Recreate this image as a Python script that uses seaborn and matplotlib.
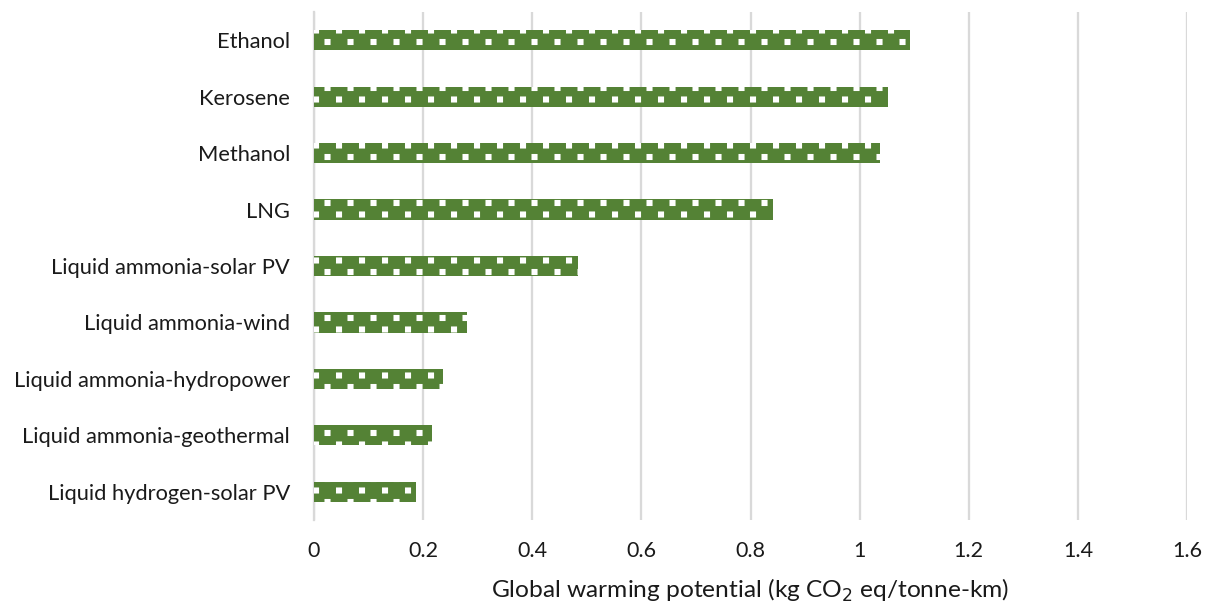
import matplotlib
matplotlib.use("Agg")
import numpy as np
import matplotlib.pyplot as plt
from matplotlib import hatch as mhatch
from matplotlib.path import Path
import seaborn as sns
import pandas as pd

fuels = [
    "Ethanol",
    "Kerosene",
    "Methanol",
    "LNG",
    "Liquid ammonia-solar PV",
    "Liquid ammonia-wind",
    "Liquid ammonia-hydropower",
    "Liquid ammonia-geothermal",
    "Liquid hydrogen-solar PV",
]
gwp = [1.092, 1.052, 1.037, 0.841, 0.484, 0.280, 0.236, 0.216, 0.187]
x_ticks = [0, 0.2, 0.4, 0.6, 0.8, 1.0, 1.2, 1.4, 1.6]
x_tick_labels = ["0", "0.2", "0.4", "0.6", "0.8", "1", "1.2", "1.4", "1.6"]

df = pd.DataFrame({"fuel": fuels, "gwp": gwp})


class SquareDots(mhatch.HatchPatternBase):
    """Staggered grid of small filled squares, used for the '.' hatch."""

    cols = 6          # squares per hatch tile, horizontally
    rows = 12         # half-staggered rows per hatch tile
    half = 0.022      # half side of one square, in tile units
    x_off = 0.04      # phase of the grid inside the tile
    y_off = 0.029

    def __init__(self, hatch, density):
        self.active = hatch.count(".") > 0
        self._centers = []
        if self.active:
            step = 1.0 / self.cols
            for r in range(-1, self.rows + 2):
                y = r / self.rows + self.y_off
                shift = 0.0 if r % 2 == 0 else step / 2
                for k in range(-1, self.cols + 2):
                    self._centers.append((k * step + shift + self.x_off, y))
        self.num_vertices = 5 * len(self._centers)

    def set_vertices_and_codes(self, vertices, codes):
        h = self.half
        square = np.array([[-h, -h], [h, -h], [h, h], [-h, h], [-h, -h]])
        sq_codes = [Path.MOVETO, Path.LINETO, Path.LINETO, Path.LINETO,
                    Path.CLOSEPOLY]
        for i, (cx, cy) in enumerate(self._centers):
            vertices[5 * i:5 * i + 5] = square + [cx, cy]
            codes[5 * i:5 * i + 5] = sq_codes


mhatch._hatch_types = [t for t in mhatch._hatch_types
                       if t is not mhatch.SmallFilledCircles] + [SquareDots]

DPI = 138
sns.set_style("white")
plt.rcParams["font.family"] = ["Lato", "DejaVu Sans"]
plt.rcParams["hatch.color"] = "white"
plt.rcParams["hatch.linewidth"] = 0.0

fig = plt.figure(figsize=(1211 / DPI, 604 / DPI), dpi=DPI)
ax = fig.add_axes([314 / 1211, 1 - 520 / 604, (1187 - 314) / 1211, (520 - 12) / 604])

sns.barplot(data=df, y="fuel", x="gwp", orient="h", color="#548235",
            width=0.36, saturation=1, ax=ax, zorder=3)
for p in ax.patches:
    p.set_hatch(".")
    p.set_edgecolor("white")
    p.set_linewidth(0)

ax.set_xlim(0, 1.6)
ax.set_xticks(x_ticks)
ax.set_xticklabels(x_tick_labels)
ax.grid(axis="x", color="#d9d9d9", linewidth=1.2, zorder=0)
ax.grid(axis="y", visible=False)
for side in ["top", "right", "bottom"]:
    ax.spines[side].set_visible(False)
ax.spines["left"].set_color("#d9d9d9")
ax.spines["left"].set_linewidth(1.2)
ax.tick_params(axis="y", length=0, labelsize=11.4, colors="#1a1a1a", pad=12.5)
ax.tick_params(axis="x", length=0, labelsize=11.2, colors="#1a1a1a", pad=11)
ax.set_ylabel("")
ax.set_xlabel("Global warming potential (kg CO$_2$ eq/tonne-km)", fontsize=12.75,
              color="#1a1a1a", labelpad=8)

fig.savefig("out.png", dpi=DPI)
